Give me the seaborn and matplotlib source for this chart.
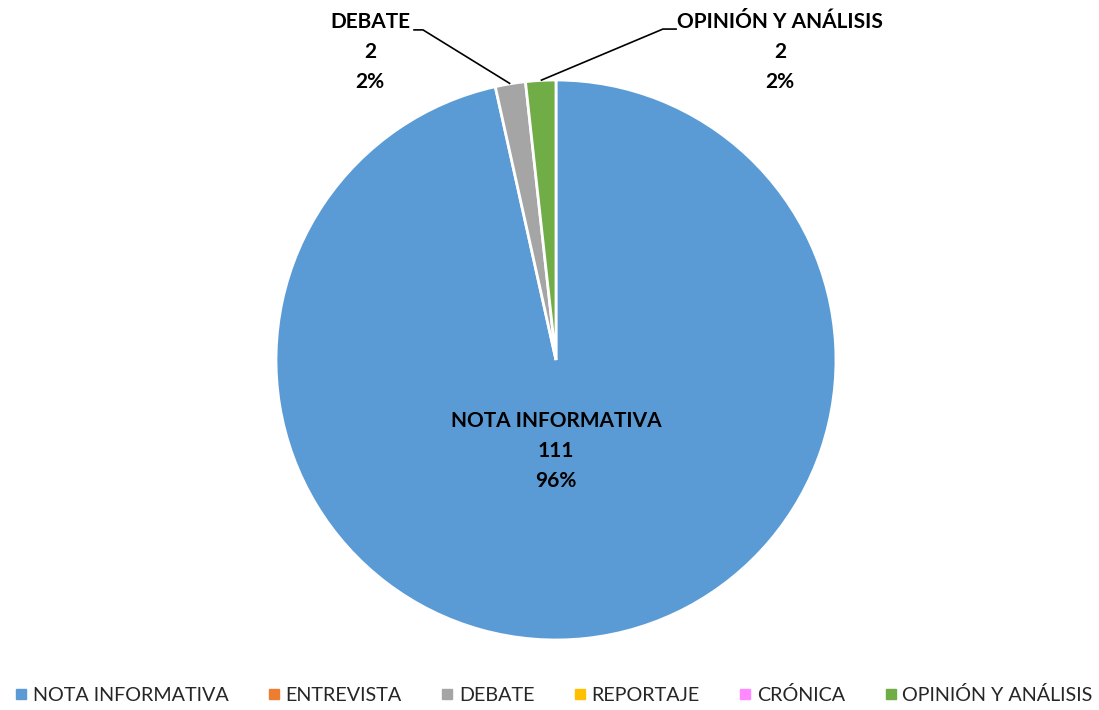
import numpy as np
import matplotlib
matplotlib.use("Agg")
import matplotlib.pyplot as plt
import seaborn as sns
from matplotlib.lines import Line2D

categories = ['NOTA INFORMATIVA', 'ENTREVISTA', 'DEBATE', 'REPORTAJE', 'CRÓNICA', 'OPINIÓN Y ANÁLISIS']
counts = [111, 0, 2, 0, 0, 2]
pct_labels = [96, 0, 2, 0, 0, 2]
colors = ['#5B9BD5', '#ED7D31', '#A5A5A5', '#FFC000', '#FF8AFF', '#70AD47']

sns.set_theme(style='white')
plt.rcParams['font.family'] = ['Lato', 'DejaVu Sans']

fig = plt.figure(figsize=(10.99, 7.10), dpi=100)
ax = fig.add_axes([0.2511, 0.0986, 0.5096, 0.7887])

palette = sns.color_palette(colors)
wedges, _ = ax.pie(counts, colors=palette, startangle=90, counterclock=False,
                   radius=1.0, wedgeprops=dict(edgecolor='white', linewidth=2))
for w, c in zip(wedges, counts):
    if c == 0:
        w.set_linewidth(0)
ax.set_xlim(-1.0, 1.0)
ax.set_ylim(-1.0, 1.0)
ax.set_aspect('equal')


def label_text(i):
    return f'{categories[i]}\n{counts[i]}\n{pct_labels[i]}%'


def mid_point(w, r=1.0):
    ang = np.deg2rad((w.theta1 + w.theta2) / 2)
    return r * np.cos(ang), r * np.sin(ang)


txt_kw = dict(ha='center', va='center', fontsize=15, fontweight='bold',
              linespacing=1.6, color='black')

# big slice label inside
ax.text(0, -0.325, label_text(0), **txt_kw)

# small slices with leader lines
outside = {2: ((-0.664, 1.10), (-0.51, 1.179), (-0.475, 1.179)),
           5: ((0.80, 1.10), (0.432, 1.182), (0.382, 1.182))}
for i, (tpos, p_text, p_knee) in outside.items():
    ax.text(tpos[0], tpos[1], label_text(i), clip_on=False, **txt_kw)
    x0, y0 = mid_point(wedges[i], 1.0)
    ax.plot([p_text[0], p_knee[0], x0], [p_text[1], p_knee[1], y0],
            color='black', lw=1.2, clip_on=False, solid_capstyle='butt')

handles = [Line2D([0], [0], marker='s', linestyle='', markersize=7,
                  markerfacecolor=c, markeredgecolor=c) for c in colors]
fig.legend(handles, categories, loc='center', bbox_to_anchor=(0.503, 0.021),
           ncol=6, frameon=False, fontsize=14.2, handletextpad=0.2,
           columnspacing=1.9, handlelength=0.8, borderpad=0.1)

fig.savefig('out.png', dpi=100, facecolor='white')
